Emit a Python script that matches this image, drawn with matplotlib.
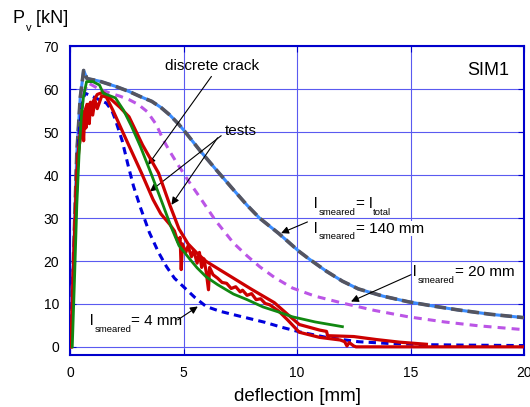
import numpy as np
import matplotlib
matplotlib.use('Agg')
import matplotlib.pyplot as plt
from matplotlib.transforms import offset_copy

plt.rcParams['font.family'] = ['Liberation Sans', 'DejaVu Sans']

# smeared crack, l_smeared = l_total / 140 mm
x_140 = [0.0, 0.15, 0.3, 0.45, 0.6, 0.75, 1.3, 2.0, 2.6, 3.1, 3.6, 4.0, 4.4, 4.8, 5.1, 5.7,
         6.4, 7.2, 7.8, 8.35, 9.2, 10.1, 10.5, 11.3, 12.0, 12.7, 13.8, 14.9, 16.0, 17.1,
         18.5, 20.0]
y_140 = [0.0, 20, 45, 58, 64.4, 62.5, 61.9, 60.7, 59.5, 58.3, 57.2, 55.8, 54, 51.8, 49.9, 45.9,
         41.5, 36.6, 33, 30.0, 26.4, 22.2, 20.6, 17.6, 15.3, 13.5, 11.8, 10.5, 9.5, 8.6,
         7.6, 6.8]

# l_smeared = 20 mm
x_20 = [0.0, 0.2, 0.4, 0.6, 0.8, 1.2, 1.76, 2.2, 2.6, 3.0, 3.4, 3.8, 4.1, 4.4, 4.7, 5.2,
        5.7, 6.4, 7.2, 7.8, 8.35, 9.0, 9.8, 10.8, 12.0, 13.4, 14.9, 16.5, 18.0, 20.0]
y_20 = [0.0, 25, 50, 59, 61.5, 60.3, 59.1, 58.4, 57.6, 56.5, 54.8, 51.8, 48.3, 45.5, 42.9, 38.8,
        35, 29.5, 24.2, 21.2, 18.7, 16.2, 13.7, 11.8, 10.2, 8.5, 7.0, 5.8, 4.9, 4.0]

# l_smeared = 4 mm
x_4 = [0.0, 0.2, 0.4, 0.55, 0.66, 1.0, 1.6, 1.85, 2.0, 2.3, 2.55, 2.8, 3.1, 3.5, 3.9, 4.25,
       4.6, 5.0, 5.5, 6.0, 6.6, 7.2, 7.9, 8.6, 9.3, 10.1, 11.3, 12.7, 14.0, 15.7, 17.5, 20.0]
y_4 = [0.0, 25, 50, 57, 59.1, 58.3, 56.8, 55, 52.9, 48, 42.5, 37.4, 32.5, 26.6, 22, 18.7,
       16, 14, 11.5, 9.4, 8.3, 7.5, 6.6, 5.7, 4.6, 3.5, 2.2, 1.2, 0.8, 0.5, 0.4, 0.3]

# discrete crack
x_dc = [0.1, 0.2, 0.3, 0.4, 0.5, 0.6, 0.73, 1.0, 1.3, 1.46, 2.0, 2.35, 2.7, 3.1, 3.6, 4.1,
        4.45, 4.8, 5.3, 5.6, 6.0, 6.5, 7.2, 7.8, 8.5, 9.2, 9.8, 10.8, 12.0]
y_dc = [0.0, 16, 33, 45, 53.7, 58.5, 61.8, 61.8, 61, 59.1, 58, 55.2, 51.5, 46.7, 40, 33,
        28, 23.6, 20.3, 18.4, 16.3, 14.5, 12.3, 11.0, 9.3, 8.1, 7.0, 5.8, 4.7]

# tests
x_ta = [0.05, 0.15, 0.3, 0.45, 0.6, 0.75, 0.9, 1.0, 1.2, 1.45, 1.7, 2.2, 2.6, 3.2, 3.9,
        4.4, 4.8, 5.2, 5.6, 6.0, 7.2, 8.0, 9.0, 9.6, 10.1, 11.0, 11.3, 11.35, 12.5, 13.5,
        14.5, 15.7]
y_ta = [0.0, 18, 40, 50, 54, 56.5, 55, 57, 58.8, 59.3, 58.2, 55.8, 53.6, 47, 40.5,
        33, 27.5, 24, 21.8, 19.9, 16, 13.4, 10.3, 7.5, 5.2, 3.9, 3.6, 2.6, 2.4, 1.7,
        1.1, 0.6]
x_tb = [0.05, 0.2, 0.35, 0.5, 0.55, 0.6, 0.65, 0.7, 0.8, 0.85, 0.9, 1.0, 1.1, 1.2, 1.4,
        1.6, 1.9, 2.5, 3.15, 3.66, 4.0, 4.4, 4.6, 4.75, 4.85, 4.9, 4.95, 5.1, 5.2, 5.35,
        5.45, 5.6, 5.7, 5.8, 5.9, 6.0, 6.1, 6.15, 6.3, 6.5, 6.7, 6.9, 7.1, 7.3, 7.5, 7.6,
        7.8, 8.0, 8.2, 8.4, 8.6, 8.8, 9.2, 9.6, 10.1, 11.0, 11.9, 12.1, 12.2, 12.3, 12.5,
        12.6, 20.0]
y_tb = [0.0, 25, 45, 50, 53, 48, 55, 51, 56.5, 52, 57, 54, 57.5, 55.5, 58.5,
        58.2, 55, 48, 40.5, 34.3, 31, 28.5, 27, 24.5, 25.5, 18, 24, 22, 23.5, 21,
        22.5, 19.5, 22, 18.5, 20.5, 17.5, 13.3, 18.5, 16.8, 16, 15, 14.8, 13.6, 14, 12.8,
        13.2, 12, 12.4, 11, 11.2, 10.1, 9.8, 8.3, 6.2, 3.4, 2.2, 1.6, 1.2, 0.2, 1.0, 0.2,
        0.0, 0.0]

x_ticks = [0, 5, 10, 15, 20]
y_ticks = [0, 10, 20, 30, 40, 50, 60, 70]

fig = plt.figure(figsize=(5.3, 4.07), dpi=100)
ax = fig.add_axes([70 / 530, 1 - 355 / 407, (524 - 70) / 530, (355 - 46.4) / 407])

frame = '#0000cc'
gridc = '#5a5af0'

ax.plot(x_140, y_140, color='#3a8cff', lw=2.2, zorder=3)
ax.plot(x_140, y_140, color='#555560', lw=2.6, dashes=(3.2, 1.4), zorder=3)
ax.plot(x_20, y_20, color='#bb55e6', lw=2.2, dashes=(2.6, 2.0), zorder=3)
ax.plot(x_4, y_4, color='#0000dd', lw=2.2, dashes=(2.4, 1.7), zorder=3)
ax.plot(x_ta, y_ta, color='#cc0000', lw=2.3, zorder=4)
ax.plot(x_tb, y_tb, color='#cc0000', lw=2.3, zorder=4)
ax.plot(x_dc, y_dc, color='#118811', lw=2.0, zorder=5)

ax.set_xlim(0, 20)
ax.set_ylim(-1.9, 70)
ax.set_xticks(x_ticks)
ax.set_yticks(y_ticks)
ax.grid(True, color=gridc, lw=0.8)
ax.set_axisbelow(True)
for s in ax.spines.values():
    s.set_color(frame)
    s.set_linewidth(1.5)
ax.tick_params(direction='in', length=4, color=frame, labelsize=10, pad=8,
               top=True, right=True)

ax.set_xlabel('deflection [mm]', fontsize=13.5, labelpad=6)
ax.text(19.37, 63.4, 'SIM1', fontsize=13, ha='right')

renderer = fig.canvas.get_renderer()


def sub_text(x, y, parts, size=11, trans=None, box=False):
    # parts: list of (string, is_subscript); pieces placed one after the other
    trans = trans or ax.transData
    dx = 0.0
    for s, is_sub in parts:
        kw = dict(fontsize=size * 0.62 if is_sub else size, zorder=6)
        if box:
            kw['bbox'] = dict(facecolor='white', edgecolor='none', pad=0.5)
        dy = -size * 0.62 if is_sub else 0.0
        t = ax.text(x, y, s, transform=offset_copy(trans, fig, x=dx, y=dy, units='dots'), **kw)
        dx += t.get_window_extent(renderer).width + (1 if not is_sub else 0)


sub_text(12.7 / 530, 1 - 23.3 / 407, [('P', False), ('v', True), (' [kN]', False)],
         size=13, trans=fig.transFigure)

arrow = dict(arrowstyle='-|>', color='k', lw=0.8, mutation_scale=11, shrinkA=0, shrinkB=0)
ax.text(4.18, 64.6, 'discrete crack', fontsize=11)
ax.annotate('', xy=(3.44, 42.4), xytext=(6.23, 63), arrowprops=arrow)
ax.text(6.8, 49.4, 'tests', fontsize=11)
ax.annotate('', xy=(3.52, 36.2), xytext=(6.66, 49.2), arrowprops=arrow)
ax.annotate('', xy=(4.47, 33.1), xytext=(6.5, 48.7), arrowprops=arrow)

sub_text(10.77, 32.4, [('l', False), ('smeared', True), ('= l', False), ('total', True)], box=True)
sub_text(10.77, 26.6, [('l', False), ('smeared', True), ('= 140 mm', False)], box=True)
ax.annotate('', xy=(9.3, 26.5), xytext=(10.46, 29.1), arrowprops=arrow, zorder=7)
sub_text(15.13, 16.5, [('l', False), ('smeared', True), ('= 20 mm', False)], box=True)
ax.annotate('', xy=(12.38, 10.56), xytext=(15.02, 16.8), arrowprops=arrow, zorder=7)
sub_text(0.88, 5.1, [('l', False), ('smeared', True), ('= 4 mm', False)])
ax.annotate('', xy=(5.63, 9.4), xytext=(4.75, 6.3), arrowprops=arrow)

fig.savefig('out.png', dpi=100)
